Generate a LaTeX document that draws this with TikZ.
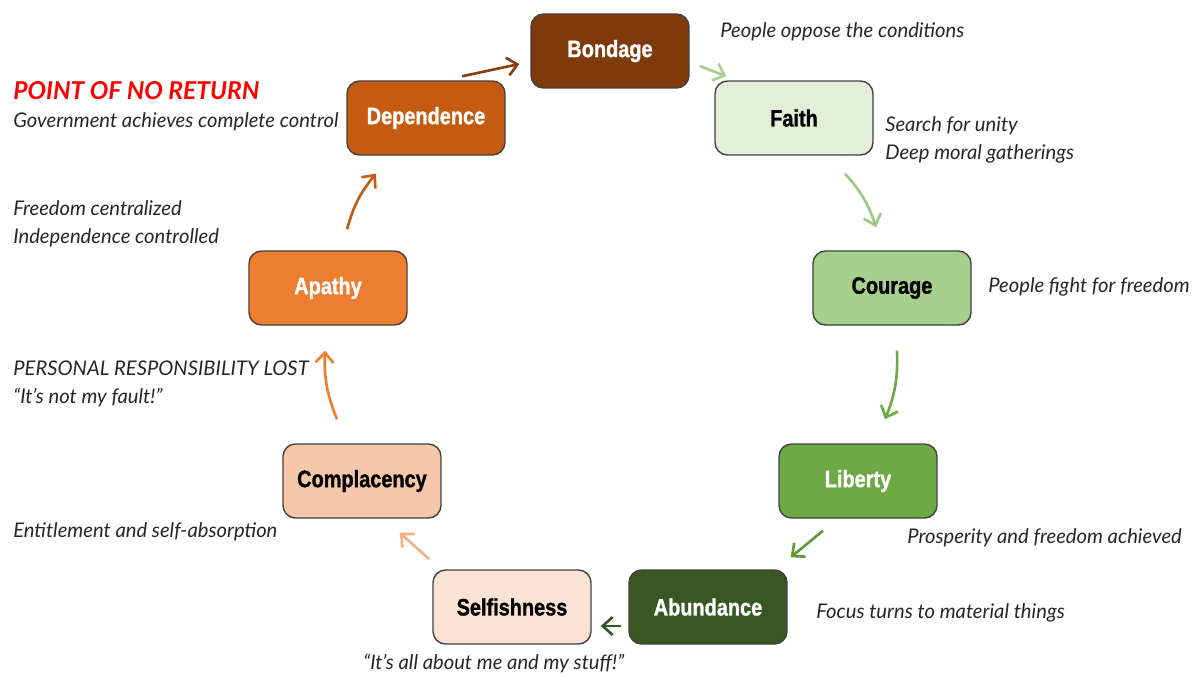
\documentclass[tikz,border=0pt]{standalone}
\usepackage{fontspec}
\setmainfont{Lato}
\newfontfamily\boxfont[FakeStretch=0.84,FakeBold=1.2]{Liberation Sans}
\usetikzlibrary{arrows.meta}

\definecolor{bondage}{HTML}{7F3A0B}
\definecolor{dependence}{HTML}{C55A11}
\definecolor{apathy}{HTML}{ED7D31}
\definecolor{complacency}{HTML}{F6C8A9}
\definecolor{selfishness}{HTML}{FAE2D5}
\definecolor{abundance}{HTML}{385723}
\definecolor{liberty}{HTML}{6DAA45}
\definecolor{courage}{HTML}{A8D08D}
\definecolor{faith}{HTML}{E2F0D9}
\definecolor{peach}{HTML}{F4B183}
\definecolor{notegray}{HTML}{262626}

\begin{document}
\begin{tikzpicture}[x=0.02cm,y=0.02cm,>={Straight Barb[length=2mm,width=3.6mm]},line width=1.5pt,
    stage/.style={rectangle,rounded corners=0.25cm,draw=black!75,line width=0.8pt,minimum width=3.16cm,minimum height=1.48cm,font=\boxfont\bfseries\fontsize{13.5}{15}\selectfont},
    note/.style={anchor=west,inner sep=0pt,align=left,text=notegray,font=\itshape\fontsize{11.5}{15.8}\selectfont}]

            \useasboundingbox (0,0) rectangle (1198,-677);

            % the nine stages, clockwise from the top
            \node[stage, fill=bondage, text=white] (bond) at (610,-51) {Bondage};
            \node[stage, fill=faith] (faith) at (794,-118) {Faith};
            \node[stage, fill=courage] (courage) at (892,-288) {Courage};
            \node[stage, fill=liberty, text=white] (liberty) at (858,-481) {Liberty};
            \node[stage, fill=abundance, text=white] (abund) at (708,-607) {Abundance};
            \node[stage, fill=selfishness] (selfish) at (512,-607) {Selfishness};
            \node[stage, fill=complacency] (compl) at (362,-481) {Complacency};
            \node[stage, fill=apathy, text=white] (apathy) at (328,-288) {Apathy};
            \node[stage, fill=dependence, text=white] (dep) at (426,-118) {Dependence};

            % notes
            \node[note] (n1) at (719,-32) {People oppose the conditions};
            \node[note] (n2) at (884,-140) {Search for unity\\Deep moral gatherings};
            \node[note] (n3) at (987,-287) {People fight for freedom};
            \node[note] (n4) at (906,-538) {Prosperity and freedom achieved};
            \node[note] (n5) at (815,-613) {Focus turns to material things};
            \node[note] (n6) at (362,-664) {“It’s all about me and my stuff!”};
            \node[note] (n7) at (12,-532) {Entitlement and self-absorption};
            \node[note] (n8) at (12,-384) {PERSONAL RESPONSIBILITY LOST\\“It’s not my fault!”};
            \node[note] (n9) at (12,-224) {Freedom centralized\\Independence controlled};
            \node[note] (n10) at (12,-106) {{\color{red}\bfseries\fontsize{14}{15.8}\selectfont POINT OF NO RETURN}\\Government achieves complete control};

            \draw[->, draw=bondage!85!dependence] ([shift={(36,4)}]dep.north) to ([shift={(-11,-13)}]bond.west);
            \draw[->, draw=courage] ([shift={(10,-15)}]bond.east) to ([shift={(12,4)}]faith.north west);
            \draw[->, draw=courage!80!liberty] ([shift={(51,-18)}]faith.south) to[bend left=12] ([shift={(-16,23)}]courage.north);
            \draw[->, draw=liberty] ([shift={(5,-25)}]courage.south) to[bend left=12] ([shift={(27,24)}]liberty.north);
            \draw[->, draw=liberty!80!abundance] ([shift={(-35,-12)}]liberty.south) to ([shift={(3,12)}]abund.north east);
            \draw[->, draw=abundance] ([shift={(-7,-19)}]abund.west) to ([shift={(9,-19)}]selfish.east);
            \draw[->, draw=peach] ([shift={(-3,10)}]selfish.north west) to ([shift={(-42,-14)}]compl.south east);
            \draw[->, draw=apathy] ([shift={(-25,24)}]compl.north) to[bend left=12] ([shift={(-3,-25)}]apathy.south);
            \draw[->, draw=dependence] ([shift={(19,21)}]apathy.north) to[bend left=12] ([shift={(-50,-18)}]dep.south);

            ;
        \end{tikzpicture}
\end{document}
